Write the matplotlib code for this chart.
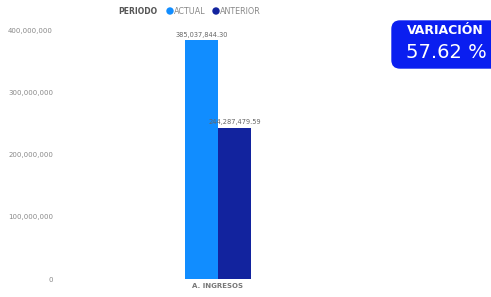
import matplotlib.pyplot as plt
from matplotlib.patches import FancyBboxPatch

categories = ['A. INGRESOS']
series = ['ACTUAL', 'ANTERIOR']
actual = [385037844.30]
anterior = [244287479.59]
variacion = 57.62
colors = ['#118DFF', '#12239E']

fig = plt.figure(figsize=(4.91, 2.97), dpi=100)
ax = fig.add_axes([60 / 491, 1 - 279 / 297, 316 / 491, 248 / 297])

w = 33 / 316 * 1.0
x = list(range(len(categories)))
for i, (vals, name) in enumerate(zip([actual, anterior], series)):
    pos = [xi + (i - 0.5) * w for xi in x]
    ax.bar(pos, vals, width=w, color=colors[i], label=name)
    for p, v in zip(pos, vals):
        ax.text(p, v + 4e6, f'{v:,.2f}', ha='center', va='bottom',
                fontsize=4.8, color='#666666')

ax.set_xlim(-0.5, 0.5)
ax.set_ylim(0, 400e6)
ax.set_yticks([0, 100e6, 200e6, 300e6, 400e6])
ax.yaxis.set_major_formatter(plt.FuncFormatter(lambda v, p: f'{v:,.0f}'))
ax.set_xticks(x)
ax.set_xticklabels(categories, fontsize=5, fontweight='bold', color='#777777')
ax.tick_params(axis='y', labelsize=5, labelcolor='#888888', length=0, pad=5)
ax.tick_params(axis='x', length=0, pad=3)
for s in ax.spines.values():
    s.set_visible(False)

# legend
fig.text(118 / 491, 1 - 11 / 297, 'PERIODO', fontsize=5.5, fontweight='bold',
         color='#555555', va='center')
for lx, c, name in [(170, colors[0], 'ACTUAL'), (216, colors[1], 'ANTERIOR')]:
    fig.patches.append(plt.Circle((lx / 100, 2.97 - 11 / 100), 0.03,
                                  transform=fig.dpi_scale_trans, color=c,
                                  figure=fig))
    fig.text((lx + 4) / 491, 1 - 11 / 297, name, fontsize=5.8,
             color='#888888', va='center')

# variation card
box = FancyBboxPatch((3.92, 2.97 - 0.68), 1.2, 0.47,
                     boxstyle='round,pad=0,rounding_size=0.08',
                     transform=fig.dpi_scale_trans, facecolor='#0A1EF0',
                     edgecolor='#0A1EF0', figure=fig)
fig.patches.append(box)
fig.text(407 / 491, 1 - 31 / 297, 'VARIACIÓN', fontsize=9, fontweight='bold',
         color='white', va='center')
fig.text(406 / 491, 1 - 52 / 297, f'{variacion:.2f} %', fontsize=14,
         color='white', va='center')

fig.savefig('out.png', dpi=100)
